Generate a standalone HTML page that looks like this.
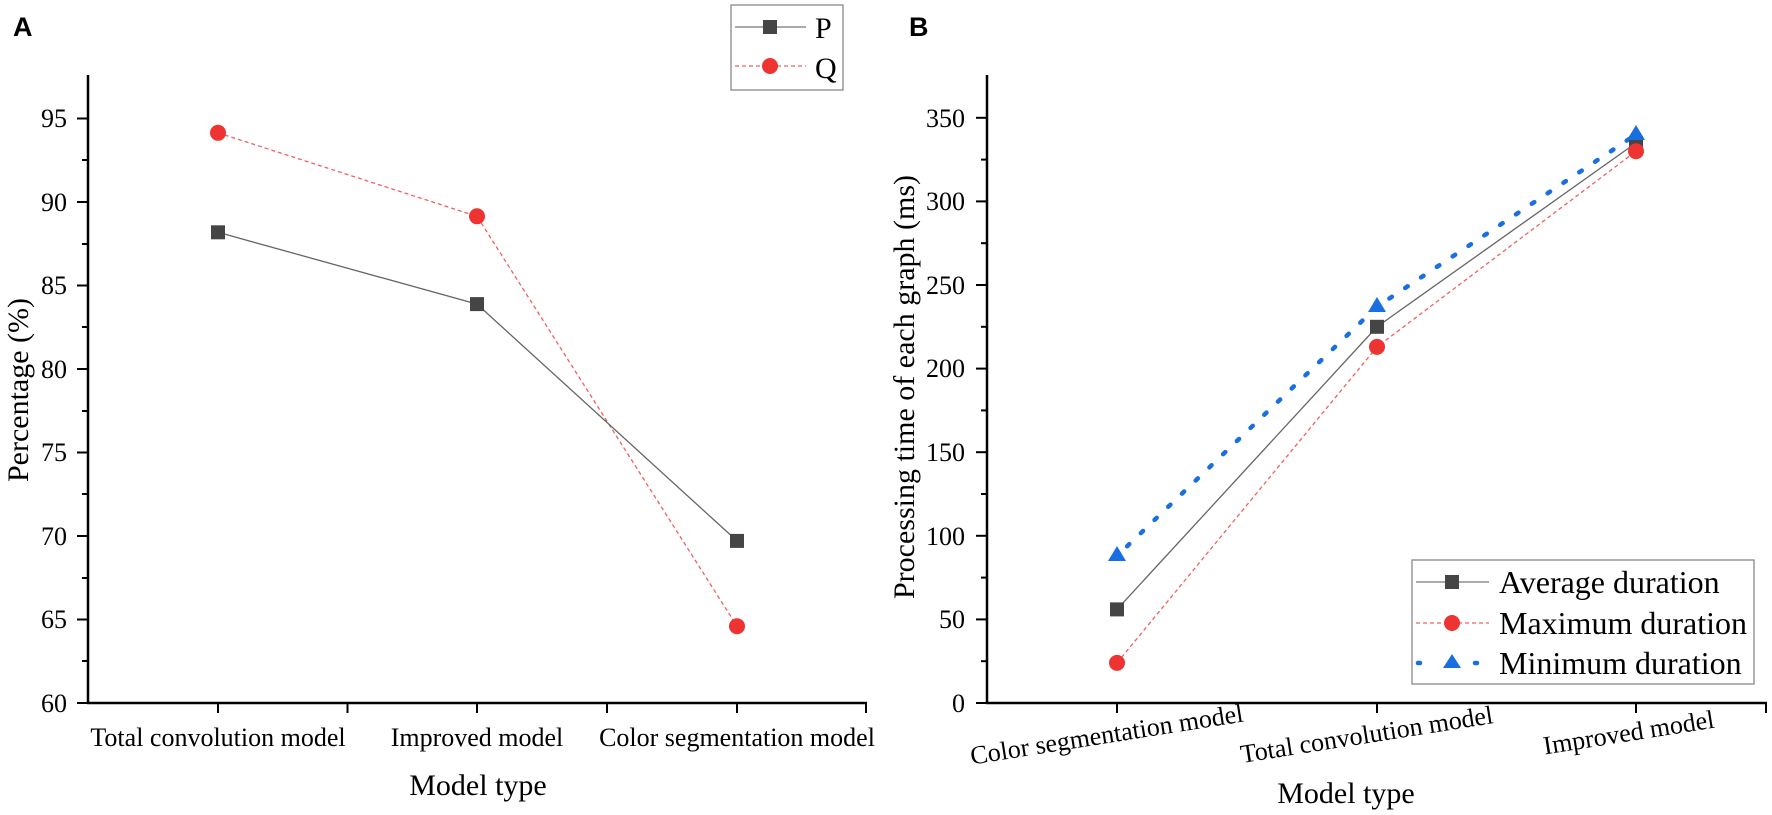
<!DOCTYPE html>
<html><head><meta charset="utf-8"><style>
html,body{margin:0;padding:0;background:#fff;}
svg{display:block;font-family:"Liberation Serif",serif;}
</style></head><body>
<svg width="1772" height="815" viewBox="0 0 1772 815" xmlns="http://www.w3.org/2000/svg">
<text x="13" y="36" font-family="Liberation Sans, sans-serif" font-weight="bold" font-size="27">A</text>
<text x="909" y="36" font-family="Liberation Sans, sans-serif" font-weight="bold" font-size="27">B</text>

<!-- ===== Chart A ===== -->
<g stroke="#000" stroke-width="2.5" fill="none">
<line x1="88" y1="75" x2="88" y2="704"/>
<line x1="87" y1="703" x2="867" y2="703"/>
</g>
<g stroke="#000" stroke-width="2">
<line x1="77" y1="703" x2="88" y2="703"/><line x1="77" y1="619.5" x2="88" y2="619.5"/>
<line x1="77" y1="536" x2="88" y2="536"/><line x1="77" y1="452.5" x2="88" y2="452.5"/>
<line x1="77" y1="369" x2="88" y2="369"/><line x1="77" y1="285.5" x2="88" y2="285.5"/>
<line x1="77" y1="202" x2="88" y2="202"/><line x1="77" y1="118.5" x2="88" y2="118.5"/>
<line x1="82" y1="661" x2="88" y2="661"/><line x1="82" y1="578" x2="88" y2="578"/>
<line x1="82" y1="494" x2="88" y2="494"/><line x1="82" y1="411" x2="88" y2="411"/>
<line x1="82" y1="327" x2="88" y2="327"/><line x1="82" y1="244" x2="88" y2="244"/>
<line x1="82" y1="160" x2="88" y2="160"/>
<line x1="218" y1="703" x2="218" y2="713"/><line x1="347.5" y1="703" x2="347.5" y2="713"/>
<line x1="477" y1="703" x2="477" y2="713"/><line x1="607" y1="703" x2="607" y2="713"/>
<line x1="737" y1="703" x2="737" y2="713"/><line x1="866" y1="703" x2="866" y2="713"/>
</g>
<g font-size="26" text-anchor="end">
<text x="67" y="712">60</text><text x="67" y="628">65</text><text x="67" y="545">70</text>
<text x="67" y="461">75</text><text x="67" y="378">80</text><text x="67" y="294">85</text>
<text x="67" y="211">90</text><text x="67" y="127">95</text>
</g>
<g font-size="26" text-anchor="middle">
<text x="218" y="746">Total convolution model</text>
<text x="477" y="746">Improved model</text>
<text x="737" y="746">Color segmentation model</text>
</g>
<text x="478" y="795" font-size="30" text-anchor="middle">Model type</text>
<text transform="translate(28,390) rotate(-90)" font-size="30" text-anchor="middle">Percentage (%)</text>

<polyline points="218,132.8 477,216.3 737,626.2" fill="none" stroke="#f06060" stroke-width="1.3" stroke-dasharray="4,3"/>
<polyline points="218,232.3 477,304.1 737,540.9" fill="none" stroke="#666" stroke-width="1.3"/>
<g fill="#ee3333"><circle cx="218" cy="132.8" r="8"/><circle cx="477" cy="216.3" r="8"/><circle cx="737" cy="626.2" r="8"/></g>
<g fill="#454545"><rect x="211" y="225.3" width="14" height="14"/><rect x="470" y="297.1" width="14" height="14"/><rect x="730" y="533.9" width="14" height="14"/></g>

<rect x="731" y="5" width="112" height="85" fill="#fff" stroke="#888" stroke-width="1.3"/>
<line x1="735" y1="27" x2="806" y2="27" stroke="#777" stroke-width="1.3"/>
<rect x="763" y="20" width="14" height="14" fill="#454545"/>
<line x1="735" y1="66" x2="806" y2="66" stroke="#f06060" stroke-width="1.3" stroke-dasharray="4,3"/>
<circle cx="770" cy="66" r="8" fill="#ee3333"/>
<text x="815" y="38" font-size="30">P</text>
<text x="815" y="78" font-size="30">Q</text>

<!-- ===== Chart B ===== -->
<g stroke="#000" stroke-width="2.5" fill="none">
<line x1="987" y1="75" x2="987" y2="704"/>
<line x1="986" y1="703" x2="1767" y2="703"/>
</g>
<g stroke="#000" stroke-width="2">
<line x1="976" y1="703" x2="987" y2="703"/><line x1="976" y1="619.4" x2="987" y2="619.4"/>
<line x1="976" y1="535.8" x2="987" y2="535.8"/><line x1="976" y1="452.2" x2="987" y2="452.2"/>
<line x1="976" y1="368.6" x2="987" y2="368.6"/><line x1="976" y1="285" x2="987" y2="285"/>
<line x1="976" y1="201.4" x2="987" y2="201.4"/><line x1="976" y1="117.8" x2="987" y2="117.8"/>
<line x1="981" y1="661.2" x2="987" y2="661.2"/><line x1="981" y1="577.6" x2="987" y2="577.6"/>
<line x1="981" y1="494" x2="987" y2="494"/><line x1="981" y1="410.4" x2="987" y2="410.4"/>
<line x1="981" y1="326.8" x2="987" y2="326.8"/><line x1="981" y1="243.2" x2="987" y2="243.2"/>
<line x1="981" y1="159.6" x2="987" y2="159.6"/>
<line x1="1117" y1="703" x2="1117" y2="713"/><line x1="1377" y1="703" x2="1377" y2="713"/>
<line x1="1636" y1="703" x2="1636" y2="713"/><line x1="1766" y1="703" x2="1766" y2="713"/>
</g>
<g font-size="26" text-anchor="end">
<text x="965" y="712">0</text><text x="965" y="628">50</text><text x="965" y="545">100</text>
<text x="965" y="461">150</text><text x="965" y="377">200</text><text x="965" y="294">250</text>
<text x="965" y="210">300</text><text x="965" y="127">350</text>
</g>
<g font-size="26" text-anchor="middle">
<text transform="translate(1108,743) rotate(-9)">Color segmentation model</text>
<text transform="translate(1368,743) rotate(-9)">Total convolution model</text>
<text transform="translate(1630,741) rotate(-9)">Improved model</text>
</g>
<text x="1346" y="803" font-size="30" text-anchor="middle">Model type</text>
<text transform="translate(914,387) rotate(-90)" font-size="30" text-anchor="middle">Processing time of each graph (ms)</text>

<polyline points="1117,662.9 1377,346.9 1636,151.2" fill="none" stroke="#f06060" stroke-width="1.3" stroke-dasharray="4,3"/>
<polyline points="1117,609.4 1377,326.8 1636,142.9" fill="none" stroke="#666" stroke-width="1.3"/>
<polyline points="1117,555.9 1377,306.7 1636,134.5" fill="none" stroke="#1a6fe0" stroke-width="4.5" stroke-linecap="round" stroke-dasharray="3,16" stroke-dashoffset="-14"/>
<g fill="#454545"><rect x="1110" y="602.4" width="14" height="14"/><rect x="1370" y="319.8" width="14" height="14"/><rect x="1629" y="135.9" width="14" height="14"/></g>
<g fill="#ee3333"><circle cx="1117" cy="662.9" r="8"/><circle cx="1377" cy="346.9" r="8"/><circle cx="1636" cy="151.2" r="8"/></g>
<g fill="#1a6fe0">
<polygon points="1117,546 1126,561 1108,561"/>
<polygon points="1377,297 1386,312 1368,312"/>
<polygon points="1636,125 1645,140 1627,140"/>
</g>

<rect x="1412" y="560" width="342" height="124" fill="#fff" stroke="#888" stroke-width="1.3"/>
<line x1="1416" y1="582" x2="1489" y2="582" stroke="#777" stroke-width="1.3"/>
<rect x="1445" y="575" width="14" height="14" fill="#454545"/>
<line x1="1416" y1="623" x2="1489" y2="623" stroke="#f06060" stroke-width="1.3" stroke-dasharray="4,3"/>
<circle cx="1452" cy="623" r="8" fill="#ee3333"/>
<g stroke="#1a6fe0" stroke-width="4.5" stroke-linecap="round">
<line x1="1418" y1="663" x2="1420" y2="663"/><line x1="1475" y1="663" x2="1477" y2="663"/>
</g>
<polygon points="1452,654 1461,668 1443,668" fill="#1a6fe0"/>
<text x="1499" y="593" font-size="32">Average duration</text>
<text x="1499" y="634" font-size="32">Maximum duration</text>
<text x="1499" y="674" font-size="32">Minimum duration</text>
</svg>
</body></html>
